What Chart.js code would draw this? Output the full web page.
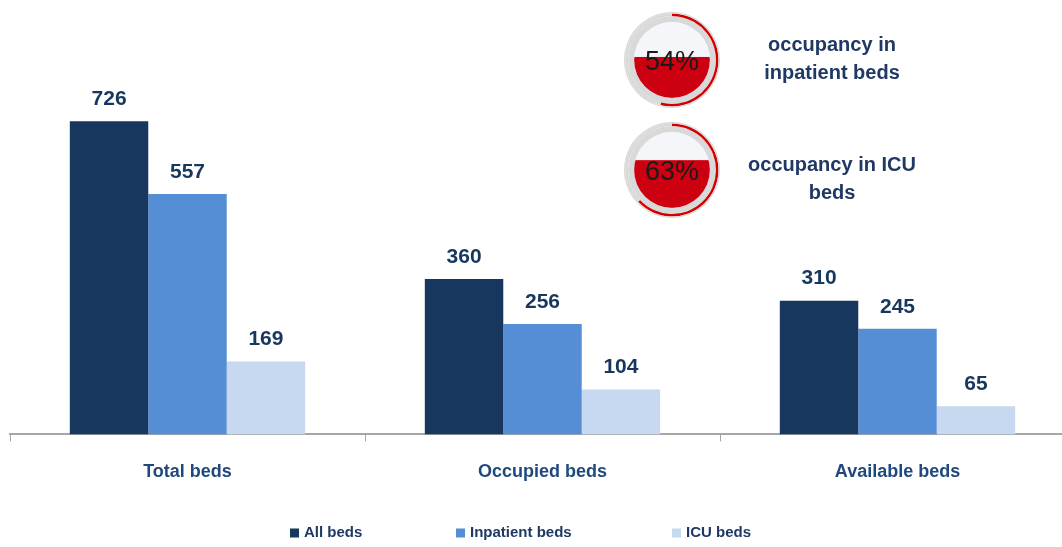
<!DOCTYPE html>
<html>
<head>
<meta charset="utf-8">
<script src="https://cdn.jsdelivr.net/npm/chart.js@4.4.0/dist/chart.umd.min.js"></script>
<style>
  body { margin: 0; background: #fff; }
  #wrap { position: relative; width: 1062px; height: 547px; overflow: hidden; }
  #main { position: absolute; left: 0; top: 0; width: 1080px; height: 547px; }
  .gauge { position: absolute; width: 96px; height: 96px; }
</style>
</head>
<body>
<div id="wrap">
  <div id="main"><canvas id="bedsChart"></canvas></div>
  <div class="gauge" style="left:624px;top:12px"><canvas id="gauge0"></canvas></div>
  <div class="gauge" style="left:624px;top:122px"><canvas id="gauge1"></canvas></div>
</div>
<script>
// chart data
const categories = ['Total beds', 'Occupied beds', 'Available beds'];
const allBeds = [726, 360, 310];
const inpatientBeds = [557, 256, 245];
const icuBeds = [169, 104, 65];
const seriesNames = ['All beds', 'Inpatient beds', 'ICU beds'];
const seriesColors = ['#17375E', '#558ED5', '#C6D9F1'];

// occupancy gauges
const occupancy = [54, 63];
const occupancyLabels = [['occupancy in', 'inpatient beds'], ['occupancy in ICU', 'beds']];

const FONT = '"Liberation Sans", Arial, sans-serif';
Chart.defaults.font.family = FONT;

// numbers above the bars
const valueLabels = {
  id: 'valueLabels',
  afterDatasetsDraw(chart) {
    const ctx = chart.ctx;
    ctx.save();
    ctx.font = 'bold 21px ' + FONT;
    ctx.fillStyle = '#17375E';
    ctx.textAlign = 'center';
    ctx.textBaseline = 'middle';
    chart.data.datasets.forEach((ds, i) => {
      chart.getDatasetMeta(i).data.forEach((bar, j) => {
        ctx.fillText(ds.data[j], bar.x, bar.y - 22);
      });
    });
    ctx.restore();
  }
};

// legend at the bottom, spaced out like the original
const bottomLegend = {
  id: 'bottomLegend',
  afterDraw(chart) {
    const ctx = chart.ctx;
    const xs = [290, 456, 672];
    const y = 533;
    ctx.save();
    ctx.font = 'bold 15px ' + FONT;
    ctx.textBaseline = 'middle';
    ctx.textAlign = 'left';
    chart.data.datasets.forEach((ds, i) => {
      ctx.fillStyle = ds.backgroundColor;
      ctx.fillRect(xs[i], y - 4.5, 9, 9);
      ctx.fillStyle = '#1F3864';
      ctx.fillText(ds.label, xs[i] + 14, y);
    });
    ctx.restore();
  }
};

// captions next to the gauges
const gaugeCaptions = {
  id: 'gaugeCaptions',
  afterDraw(chart) {
    const ctx = chart.ctx;
    const tops = [45, 165];
    ctx.save();
    ctx.font = 'bold 20px ' + FONT;
    ctx.fillStyle = '#1F3864';
    ctx.textAlign = 'center';
    ctx.textBaseline = 'middle';
    occupancyLabels.forEach((lines, i) => {
      lines.forEach((line, k) => ctx.fillText(line, 832, tops[i] + k * 28));
    });
    ctx.restore();
  }
};

const ctx = document.getElementById('bedsChart').getContext('2d');
const bedsChart = new Chart(ctx, {
  type: 'bar',
  data: {
    labels: categories,
    datasets: [allBeds, inpatientBeds, icuBeds].map((values, i) => ({
      label: seriesNames[i],
      data: values,
      backgroundColor: seriesColors[i],
      borderWidth: 0,
      categoryPercentage: 0.663,
      barPercentage: 1.0
    }))
  },
  options: {
    responsive: true,
    maintainAspectRatio: false,
    animation: false,
    events: [],
    layout: { padding: { left: 10, right: 5, top: 3, bottom: 44 } },
    scales: {
      x: {
        grid: { display: true, drawOnChartArea: false, drawTicks: true, tickLength: 7, color: '#A6A6A6', offset: true },
        border: { display: true, color: '#A6A6A6', width: 2 },
        ticks: { padding: 20, color: '#1F497D', font: { size: 18, weight: 'bold' } }
      },
      y: { display: false, min: 0, max: 1000 }
    },
    plugins: {
      legend: { display: false },
      tooltip: { enabled: false }
    }
  },
  plugins: [valueLabels, bottomLegend, gaugeCaptions]
});

// liquid fill and percentage inside each gauge
const gaugeFill = {
  id: 'gaugeFill',
  afterDatasetsDraw(chart) {
    const pct = chart.data.datasets[1].data[0];
    const arc = chart.getDatasetMeta(2).data[0];
    const cx = arc.x, cy = arc.y, r = arc.innerRadius;
    const c = chart.ctx;
    c.save();
    c.beginPath();
    c.arc(cx, cy, r, 0, Math.PI * 2);
    c.clip();
    c.fillStyle = '#F4F6FA';
    c.fillRect(cx - r, cy - r, 2 * r, 2 * r);
    c.fillStyle = '#CC0010';
    const level = cy + r - 2 * r * pct / 100;
    c.fillRect(cx - r, level, 2 * r, cy + r - level);
    c.restore();
    c.save();
    c.font = '27px ' + FONT;
    c.fillStyle = '#1A1A1A';
    c.textAlign = 'center';
    c.textBaseline = 'middle';
    c.fillText(pct + '%', cx, cy + 3);
    c.restore();
  }
};

occupancy.forEach((pct, i) => {
  new Chart(document.getElementById('gauge' + i), {
    type: 'doughnut',
    data: {
      datasets: [
        { data: [100], backgroundColor: ['#D9D9D9'], weight: 1.5 },
        { data: [pct, 100 - pct], backgroundColor: ['#D40000', '#D9D9D9'], weight: 2.5 },
        { data: [100], backgroundColor: ['#D9D9D9'], weight: 6 }
      ]
    },
    options: {
      responsive: true,
      maintainAspectRatio: false,
      animation: false,
      events: [],
      cutout: '79%',
      elements: { arc: { borderWidth: 0 } },
      plugins: { legend: { display: false }, tooltip: { enabled: false } }
    },
    plugins: [gaugeFill]
  });
});
</script>
</body>
</html>
